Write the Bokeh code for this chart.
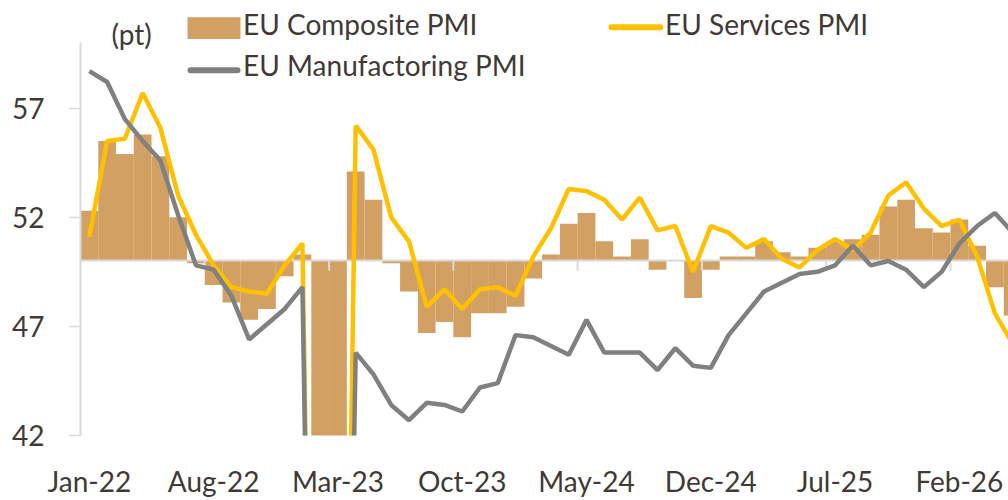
import pandas as pd
from bokeh.plotting import figure
from bokeh.models import Range1d, FixedTicker, Label
from bokeh.embed import file_html
from bokeh.resources import INLINE

# ---------------- data ----------------
months = [d.strftime("%b-%y") for d in pd.date_range("2022-01-01", periods=53, freq="MS")]

composite = [52.3, 55.5, 54.9, 55.8, 54.8, 52.0, 49.9, 48.9, 48.1, 47.3, 47.8, 49.3,
             50.3, 0.0, 0.0, 54.1, 52.8, 49.9, 48.6, 46.7, 47.2, 46.5, 47.6, 47.6,
             47.9, 49.2, 50.3, 51.7, 52.2, 50.9, 50.2, 51.0, 49.6, 50.0, 48.3, 49.6,
             50.2, 50.2, 50.9, 50.4, 50.2, 50.6, 50.9, 51.0, 51.2, 52.5, 52.8, 51.5,
             51.3, 51.9, 50.7, 48.8, 47.5]
services = [51.1, 55.5, 55.6, 57.7, 56.1, 53.0, 51.2, 49.8, 48.8, 48.6, 48.5, 49.8,
            50.8, 0.0, 0.0, 56.2, 55.1, 52.0, 50.9, 47.9, 48.7, 47.8, 48.7, 48.8,
            48.4, 50.2, 51.5, 53.3, 53.2, 52.8, 51.9, 52.9, 51.4, 51.6, 49.5, 51.6,
            51.3, 50.6, 51.0, 50.1, 49.7, 50.5, 51.0, 50.5, 51.3, 53.0, 53.6, 52.4,
            51.6, 51.9, 50.2, 47.6, 46.2]
manufacturing = [58.7, 58.2, 56.5, 55.5, 54.6, 52.1, 49.8, 49.6, 48.4, 46.4, 47.1, 47.8,
                 48.8, 0.0, 0.0, 45.8, 44.8, 43.4, 42.7, 43.5, 43.4, 43.1, 44.2, 44.4,
                 46.6, 46.5, 46.1, 45.7, 47.3, 45.8, 45.8, 45.8, 45.0, 46.0, 45.2, 45.1,
                 46.6, 47.6, 48.6, 49.0, 49.4, 49.5, 49.8, 50.7, 49.8, 50.0, 49.6, 48.8,
                 49.5, 50.8, 51.6, 52.2, 51.3]

tick_labels = ["Jan-22", "Aug-22", "Mar-23", "Oct-23", "May-24", "Dec-24", "Jul-25", "Feb-26"]
y_ticks = [42, 47, 52, 57]
baseline_value = 50
series_names = ["EU Composite PMI", "EU Services PMI", "EU Manufactoring  PMI"]
unit_label = "(pt)"

# ---------------- styles / layout ----------------
BAR = "#D1A062"
YEL = "#FFC000"
GRY = "#808080"
AXC = "#D9D9D9"
TXT = "#3F3A36"
FONT = "Lato"
FS = "28px"

W, H = 1008, 500
FL, FB_BORDER = 80, 60          # frame left offset, bottom border
FW, FH = W - FL, H - FB_BORDER  # frame size
PXU, PYU = 17.755, 22.07        # px per month, px per point
x_start = -0.5
x_end = x_start + FW / PXU
y_start = 42
y_end = y_start + FH / PYU

PAGE_X0, PAGE_Y0 = FL, FH       # canvas coords of frame bottom-left


def dx(px):
    return x_start + (px - PAGE_X0) / PXU


def dy(py):
    return y_start + (PAGE_Y0 - py) / PYU


idx = list(range(len(months)))

p = figure(width=W, height=H, output_backend="svg", toolbar_location=None,
           x_range=Range1d(x_start, x_end), y_range=Range1d(y_start, y_end),
           min_border_left=FL, min_border_right=0, min_border_top=0,
           min_border_bottom=FB_BORDER)
p.outline_line_color = None
p.grid.visible = False
p.background_fill_color = "white"
p.border_fill_color = "white"

# bars from the 50 line
p.vbar(x=idx, top=composite, bottom=baseline_value, width=1.0,
       fill_color=BAR, line_color=None)

# 50 axis line and ticks
p.hspan(y=[baseline_value], line_color=AXC, line_width=2)
tick_pos = [months.index(t) for t in tick_labels]
sep = [t - 0.5 for t in tick_pos if t > 0]
p.segment(x0=sep, x1=sep, y0=[baseline_value] * len(sep),
          y1=[baseline_value - 10 / PYU] * len(sep), line_color=AXC, line_width=2)

# lines
p.line(idx, services, line_color=YEL, line_width=4.5)
p.line(idx, manufacturing, line_color=GRY, line_width=4.5)

# axes
p.yaxis.ticker = FixedTicker(ticks=y_ticks)
p.yaxis.bounds = (y_start, 60)
p.yaxis.axis_line_color = AXC
p.yaxis.axis_line_width = 2
p.yaxis.major_tick_line_color = AXC
p.yaxis.major_tick_line_width = 1.5
p.yaxis.major_tick_out = 11
p.yaxis.major_tick_in = 0
p.yaxis.minor_tick_line_color = None
p.yaxis.major_label_standoff = 25
p.yaxis.major_label_text_font = FONT
p.yaxis.major_label_text_font_size = FS
p.yaxis.major_label_text_color = TXT

p.xaxis.ticker = FixedTicker(ticks=tick_pos)
p.xaxis.major_label_overrides = {t: lab for t, lab in zip(tick_pos, tick_labels)}
p.xaxis.axis_line_color = None
p.xaxis.major_tick_line_color = None
p.xaxis.minor_tick_line_color = None
p.xaxis.major_tick_out = 0
p.xaxis.major_tick_in = 0
p.xaxis.major_label_standoff = 28
p.xaxis.major_label_text_font = FONT
p.xaxis.major_label_text_font_size = FS
p.xaxis.major_label_text_color = TXT

# legend (drawn manually)
p.quad(left=dx(187), right=dx(240), top=dy(17), bottom=dy(39),
       fill_color=BAR, line_color=None)
p.line([dx(611), dx(660)], [dy(27), dy(27)], line_color=YEL, line_width=6, line_cap="round")
p.line([dx(190), dx(237)], [dy(70.5), dy(70.5)], line_color=GRY, line_width=6, line_cap="round")

for name, px, py in [(series_names[0], 242.6, 23.5),
                     (series_names[1], 664.6, 23.5),
                     (series_names[2], 242.6, 65)]:
    p.add_layout(Label(x=dx(px), y=dy(py), text=name, text_font=FONT,
                       text_font_size=FS, text_color=TXT,
                       text_baseline="alphabetic", text_align="left"))

p.add_layout(Label(x=dx(111), y=dy(34), text=unit_label, text_font=FONT,
                   text_font_size=FS, text_color=TXT,
                   text_baseline="alphabetic", text_align="left"))

open("out.html", "w").write(file_html(p, INLINE))
